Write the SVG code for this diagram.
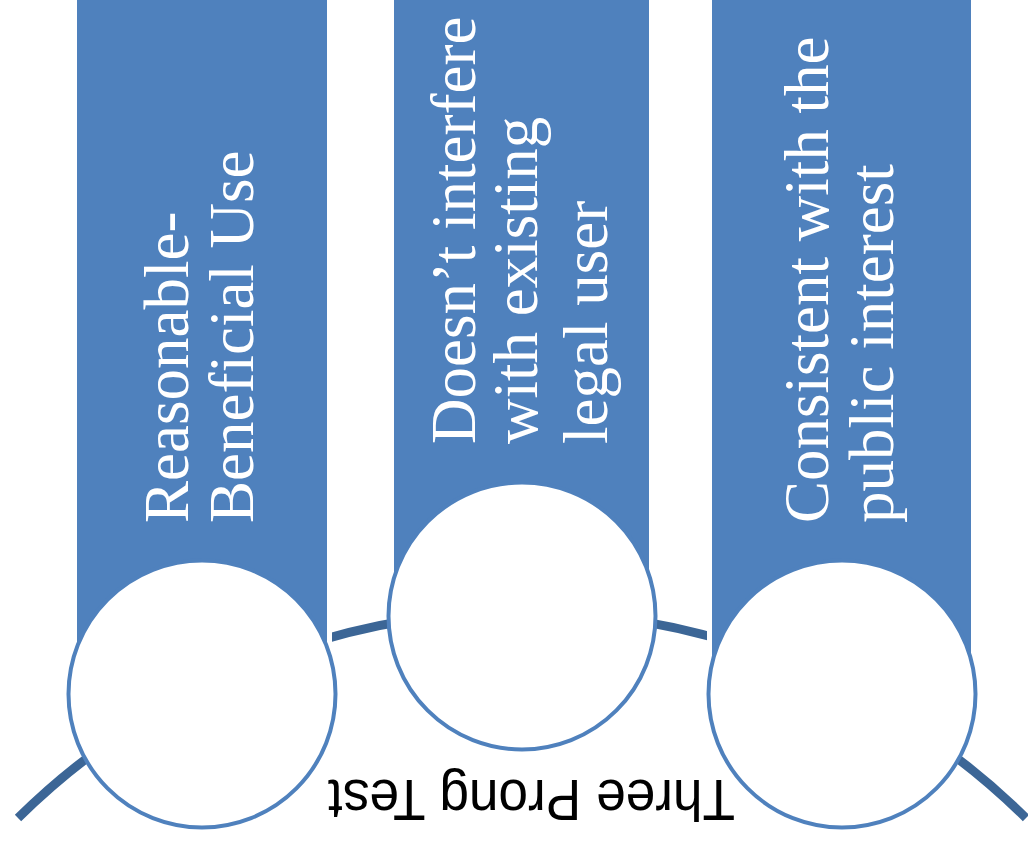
<svg xmlns="http://www.w3.org/2000/svg" width="1028" height="843" viewBox="0 0 1028 843">
  <style>
    .halo { fill: #ffffff; }
    .bar { fill: #4F81BD; }
    .ring { fill: #ffffff; stroke: #4F81BD; stroke-width: 4; }
    .lbl { font-family: "Liberation Serif", "Times New Roman", serif; font-size: 63px; fill: #ffffff; }
    .arc { fill: none; stroke: #3C6696; stroke-width: 9; }
    .title { font-family: "Liberation Sans", Arial, sans-serif; font-size: 58px; fill: #000000; }
  </style>
  <rect x="0" y="0" width="1028" height="843" fill="#ffffff"/>
  <g id="connectors">
    <path class="arc" d="M 18 818 A 718 718 0 0 1 1026 818"/>
  </g>
  <g id="node1">
    <rect class="halo" x="72" y="-10" width="260" height="704"/>
    <rect class="bar" x="77" y="-10" width="250" height="704"/>
    <text class="lbl" transform="translate(188 523) rotate(-90)">Reasonable-</text>
    <text class="lbl" transform="translate(253 523) rotate(-90)">Beneficial Use</text>
    <circle class="ring" cx="202" cy="694" r="133.5"/>
  </g>
  <g id="node2">
    <rect class="halo" x="389" y="-10" width="265" height="626"/>
    <rect class="bar" x="394" y="-10" width="255" height="626"/>
    <text class="lbl" transform="translate(475 444) rotate(-90)">Doesn’t interfere</text>
    <text class="lbl" transform="translate(537 444) rotate(-90)">with existing</text>
    <text class="lbl" transform="translate(607 444) rotate(-90)">legal user</text>
    <circle class="ring" cx="522" cy="616" r="133.5"/>
  </g>
  <g id="node3">
    <rect class="halo" x="707" y="-10" width="269" height="704"/>
    <rect class="bar" x="712" y="-10" width="259" height="704"/>
    <text class="lbl" transform="translate(828 523) rotate(-90)">Consistent with the</text>
    <text class="lbl" transform="translate(893 523) rotate(-90)">public interest</text>
    <circle class="ring" cx="842" cy="694" r="133.5"/>
  </g>
  <g id="title">
    <text class="title" x="531.5" y="780" text-anchor="middle" textLength="407" lengthAdjust="spacingAndGlyphs" transform="rotate(180 531.5 780)">Three Prong Test</text>
  </g>
</svg>
